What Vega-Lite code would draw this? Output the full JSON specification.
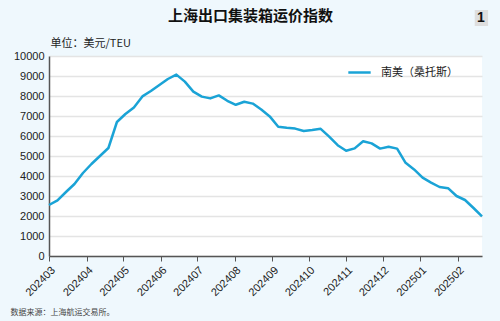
{
  "$schema": "https://vega.github.io/schema/vega-lite/v6.json",
  "width": 433,
  "height": 200,
  "autosize": {"type": "none"},
  "padding": {"left": 49, "top": 56, "right": 18, "bottom": 65},
  "background": "#eff8fd",
  "view": {"fill": "white", "stroke": null},
  "title": {
    "text": "上海出口集装箱运价指数",
    "anchor": "middle",
    "dx": -15,
    "dy": 25,
    "font": "Noto Sans CJK SC",
    "fontSize": 15,
    "fontWeight": "bold",
    "color": "#111111",
    "offset": 11
  },
  "config": {
    "font": "Liberation Sans"
  },
  "resolve": {"axis": {"x": "independent", "y": "independent"}},
  "datasets": {
    "scfi": [
      {"date": "2024-03-01", "value": 2550, "series": "南美（桑托斯）"},
      {"date": "2024-03-08", "value": 2780, "series": "南美（桑托斯）"},
      {"date": "2024-03-15", "value": 3200, "series": "南美（桑托斯）"},
      {"date": "2024-03-22", "value": 3600, "series": "南美（桑托斯）"},
      {"date": "2024-03-29", "value": 4150, "series": "南美（桑托斯）"},
      {"date": "2024-04-05", "value": 4600, "series": "南美（桑托斯）"},
      {"date": "2024-04-12", "value": 5000, "series": "南美（桑托斯）"},
      {"date": "2024-04-19", "value": 5400, "series": "南美（桑托斯）"},
      {"date": "2024-04-26", "value": 6700, "series": "南美（桑托斯）"},
      {"date": "2024-05-03", "value": 7100, "series": "南美（桑托斯）"},
      {"date": "2024-05-10", "value": 7430, "series": "南美（桑托斯）"},
      {"date": "2024-05-17", "value": 7980, "series": "南美（桑托斯）"},
      {"date": "2024-05-24", "value": 8250, "series": "南美（桑托斯）"},
      {"date": "2024-05-31", "value": 8550, "series": "南美（桑托斯）"},
      {"date": "2024-06-07", "value": 8850, "series": "南美（桑托斯）"},
      {"date": "2024-06-14", "value": 9070, "series": "南美（桑托斯）"},
      {"date": "2024-06-21", "value": 8720, "series": "南美（桑托斯）"},
      {"date": "2024-06-28", "value": 8220, "series": "南美（桑托斯）"},
      {"date": "2024-07-05", "value": 7970, "series": "南美（桑托斯）"},
      {"date": "2024-07-12", "value": 7880, "series": "南美（桑托斯）"},
      {"date": "2024-07-19", "value": 8030, "series": "南美（桑托斯）"},
      {"date": "2024-07-26", "value": 7760, "series": "南美（桑托斯）"},
      {"date": "2024-08-02", "value": 7560, "series": "南美（桑托斯）"},
      {"date": "2024-08-09", "value": 7710, "series": "南美（桑托斯）"},
      {"date": "2024-08-16", "value": 7620, "series": "南美（桑托斯）"},
      {"date": "2024-08-23", "value": 7320, "series": "南美（桑托斯）"},
      {"date": "2024-08-30", "value": 6980, "series": "南美（桑托斯）"},
      {"date": "2024-09-06", "value": 6460, "series": "南美（桑托斯）"},
      {"date": "2024-09-13", "value": 6410, "series": "南美（桑托斯）"},
      {"date": "2024-09-20", "value": 6370, "series": "南美（桑托斯）"},
      {"date": "2024-09-27", "value": 6250, "series": "南美（桑托斯）"},
      {"date": "2024-10-04", "value": 6300, "series": "南美（桑托斯）"},
      {"date": "2024-10-11", "value": 6360, "series": "南美（桑托斯）"},
      {"date": "2024-10-18", "value": 5970, "series": "南美（桑托斯）"},
      {"date": "2024-10-25", "value": 5540, "series": "南美（桑托斯）"},
      {"date": "2024-11-01", "value": 5260, "series": "南美（桑托斯）"},
      {"date": "2024-11-08", "value": 5380, "series": "南美（桑托斯）"},
      {"date": "2024-11-15", "value": 5740, "series": "南美（桑托斯）"},
      {"date": "2024-11-22", "value": 5630, "series": "南美（桑托斯）"},
      {"date": "2024-11-29", "value": 5370, "series": "南美（桑托斯）"},
      {"date": "2024-12-06", "value": 5460, "series": "南美（桑托斯）"},
      {"date": "2024-12-13", "value": 5370, "series": "南美（桑托斯）"},
      {"date": "2024-12-20", "value": 4660, "series": "南美（桑托斯）"},
      {"date": "2024-12-27", "value": 4330, "series": "南美（桑托斯）"},
      {"date": "2025-01-03", "value": 3920, "series": "南美（桑托斯）"},
      {"date": "2025-01-10", "value": 3670, "series": "南美（桑托斯）"},
      {"date": "2025-01-17", "value": 3450, "series": "南美（桑托斯）"},
      {"date": "2025-01-24", "value": 3390, "series": "南美（桑托斯）"},
      {"date": "2025-01-31", "value": 3000, "series": "南美（桑托斯）"},
      {"date": "2025-02-07", "value": 2800, "series": "南美（桑托斯）"},
      {"date": "2025-02-14", "value": 2400, "series": "南美（桑托斯）"},
      {"date": "2025-02-21", "value": 1980, "series": "南美（桑托斯）"}
    ],
    "badge": [
      {"x0": "2025-02-15", "x1": "2025-02-26", "xm": "2025-02-20", "y0": 11500, "y1": 12300, "ym": 11900, "label": "1"}
    ]
  },
  "layer": [
    {
      "data": {"name": "scfi"},
      "mark": {"type": "line", "strokeWidth": 2.5, "strokeJoin": "round"},
      "encoding": {
        "x": {
          "field": "date",
          "type": "temporal",
          "scale": {"type": "utc", "domain": [{"year": 2024, "month": 3, "date": 1, "utc": true}, {"year": 2025, "month": 2, "date": 21, "utc": true}]},
          "axis": {
            "values": [
              {"year": 2024, "month": 3, "date": 1, "utc": true},
              {"year": 2024, "month": 4, "date": 1, "utc": true},
              {"year": 2024, "month": 5, "date": 1, "utc": true},
              {"year": 2024, "month": 6, "date": 1, "utc": true},
              {"year": 2024, "month": 7, "date": 1, "utc": true},
              {"year": 2024, "month": 8, "date": 1, "utc": true},
              {"year": 2024, "month": 9, "date": 1, "utc": true},
              {"year": 2024, "month": 10, "date": 1, "utc": true},
              {"year": 2024, "month": 11, "date": 1, "utc": true},
              {"year": 2024, "month": 12, "date": 1, "utc": true},
              {"year": 2025, "month": 1, "date": 1, "utc": true},
              {"year": 2025, "month": 2, "date": 1, "utc": true}
            ],
            "format": "%Y%m",
            "labelAngle": -45,
            "labelFontSize": 11,
            "labelColor": "#222222",
            "labelPadding": 3,
            "labelOverlap": false,
            "labelBound": false,
            "labelFlush": false,
            "grid": false,
            "domainColor": "#555555",
            "domainWidth": 1.5,
            "tickColor": "#555555",
            "tickSize": 5,
            "tickWidth": 1,
            "title": "数据来源：上海航运交易所。",
            "titleFont": "Noto Sans CJK SC",
            "titleFontSize": 8,
            "titleFontWeight": "normal",
            "titleColor": "#444444",
            "titleX": -39,
            "titleY": 56,
            "titleAlign": "left",
            "titleBaseline": "middle",
            "titleAngle": 0
          }
        },
        "y": {
          "field": "value",
          "type": "quantitative",
          "scale": {"domain": [0, 10000], "nice": false},
          "axis": {
            "values": [0, 1000, 2000, 3000, 4000, 5000, 6000, 7000, 8000, 9000, 10000],
            "format": "d",
            "labelFontSize": 11,
            "labelColor": "#222222",
            "labelPadding": 5,
            "labelOverlap": false,
            "labelBound": false,
            "labelFlush": false,
            "ticks": false,
            "gridColor": "#e4e4e4",
            "gridWidth": 1.5,
            "domainColor": "#555555",
            "domainWidth": 1.5,
            "title": "单位：美元/TEU",
            "titleFont": "Noto Sans CJK SC",
            "titleFontSize": 11,
            "titleFontWeight": "normal",
            "titleColor": "#222222",
            "titleAngle": 0,
            "titleX": 1,
            "titleY": -13,
            "titleAlign": "left",
            "titleBaseline": "middle"
          }
        },
        "color": {
          "field": "series",
          "type": "nominal",
          "scale": {"range": ["#1aa3d6"]},
          "legend": {
            "title": null,
            "orient": "none",
            "legendX": 298,
            "legendY": 4,
            "symbolType": "stroke",
            "symbolSize": 500,
            "symbolStrokeWidth": 2.5,
            "labelFont": "Noto Sans CJK SC",
            "labelFontSize": 11,
            "labelColor": "#222222",
            "labelOffset": 9
          }
        }
      }
    },
    {
      "data": {"name": "badge"},
      "mark": {"type": "rect", "fill": "#dedede", "clip": false},
      "encoding": {
        "x": {"field": "x0", "type": "temporal", "axis": null},
        "x2": {"field": "x1"},
        "y": {"field": "y0", "type": "quantitative", "axis": null},
        "y2": {"field": "y1"}
      }
    },
    {
      "data": {"name": "badge"},
      "mark": {"type": "text", "font": "Liberation Sans", "fontSize": 14, "fontWeight": "bold", "color": "#111111", "clip": false},
      "encoding": {
        "x": {"field": "xm", "type": "temporal", "axis": null},
        "y": {"field": "ym", "type": "quantitative", "axis": null},
        "text": {"field": "label"}
      }
    }
  ]
}
